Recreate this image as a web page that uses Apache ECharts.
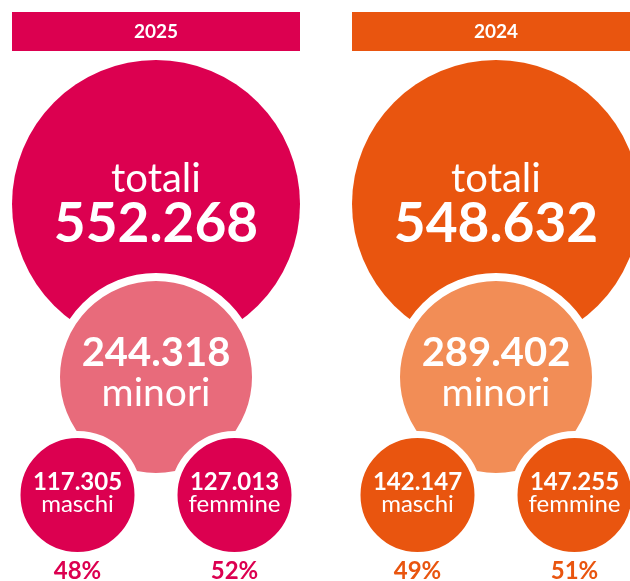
<!DOCTYPE html>
<html lang="it">
<head>
    <meta charset="UTF-8">
    <title>Totali e minori</title>
    <style>
        html,body{
            padding: 0;margin: 0;background: #fff;
        }
        #chart{
            width: 630px;height: 581px;
        }
    </style>
    <script src="https://cdn.jsdelivr.net/npm/echarts@6/dist/echarts.min.js"></script>
</head>
<body>
<div id="chart"></div>
<script>
    // dati
    var years = ['2025', '2024'];
    var totali = [552268, 548632];
    var minori = [244318, 289402];
    var maschi = [117305, 142147];
    var femmine = [127013, 147255];
    var slots = ['maschi', 'minori', 'femmine'];

    // colori e layout
    var mainColor = ['#DC0050', '#E9550F'];
    var lightColor = ['#E86B7B', '#F28D56'];
    var panelX = [156, 496];
    var levelY = [204, 377, 495];
    var font = 'Lato';

    function fmt(n){
        return String(n).replace(/\B(?=(\d{3})+(?!\d))/g, '.');
    }

    var myChart = echarts.init(document.getElementById('chart'));

    var grids = [], xAxes = [], yAxes = [], series = [], graphics = [];

    years.forEach(function(y, i){
        grids.push({left: panelX[i] - 117.75, width: 235.5, top: 0, height: 581});
        xAxes.push({type: 'category', data: slots, gridIndex: i, show: false});
        yAxes.push({type: 'value', min: 0, max: 581, inverse: true, gridIndex: i, show: false});

        graphics.push({
            type: 'rect', left: panelX[i] - 144, top: 12,
            shape: {width: 288, height: 39}, style: {fill: mainColor[i]}
        });
        graphics.push({
            type: 'text', x: panelX[i], y: 32,
            style: {text: y, fill: '#fff', font: 'bold 19px ' + font, textAlign: 'center', textVerticalAlign: 'middle'}
        });

        // cerchio grande
        series.push({
            type: 'scatter', xAxisIndex: i, yAxisIndex: i, z: 2, silent: true,
            symbolSize: 288,
            itemStyle: {color: mainColor[i], opacity: 1},
            label: {
                show: true, position: 'inside', offset: [0, -2],
                formatter: '{a|totali}\n{b|' + fmt(totali[i]) + '}',
                rich: {
                    a: {fontFamily: font, fontSize: 40, lineHeight: 44, color: '#fff'},
                    b: {fontFamily: font, fontSize: 55, fontWeight: 'bold', lineHeight: 46, color: '#fff'}
                }
            },
            data: [['minori', levelY[0]]]
        });

        // minori
        series.push({
            type: 'scatter', xAxisIndex: i, yAxisIndex: i, z: 3, silent: true,
            symbolSize: 200,
            itemStyle: {color: lightColor[i], borderColor: '#fff', borderWidth: 8, opacity: 1},
            label: {
                show: true, position: 'inside', offset: [0, -4],
                formatter: '{b|' + fmt(minori[i]) + '}\n{a|minori}',
                rich: {
                    b: {fontFamily: font, fontSize: 40, fontWeight: 'bold', lineHeight: 40, color: '#fff'},
                    a: {fontFamily: font, fontSize: 39, lineHeight: 40, color: '#fff'}
                }
            },
            data: [['minori', levelY[1]]]
        });

        // maschi / femmine
        var sexData = [
            {value: ['maschi', levelY[2]], n: maschi[i], name: 'maschi'},
            {value: ['femmine', levelY[2]], n: femmine[i], name: 'femmine'}
        ];
        series.push({
            type: 'scatter', xAxisIndex: i, yAxisIndex: i, z: 4, silent: true,
            symbolSize: 121,
            itemStyle: {color: mainColor[i], borderColor: '#fff', borderWidth: 7, opacity: 1},
            label: {
                show: true, position: 'inside', offset: [0, -2],
                formatter: function(p){
                    return '{b|' + fmt(p.data.n) + '}\n{a|' + p.data.name + '}';
                },
                rich: {
                    b: {fontFamily: font, fontSize: 24, fontWeight: 'bold', lineHeight: 22, color: '#fff'},
                    a: {fontFamily: font, fontSize: 24, lineHeight: 22, color: '#fff'}
                }
            },
            data: sexData
        });

        // percentuali
        series.push({
            type: 'scatter', xAxisIndex: i, yAxisIndex: i, z: 5, silent: true,
            symbolSize: 114,
            itemStyle: {color: 'rgba(0,0,0,0)', opacity: 1},
            label: {
                show: true, position: 'bottom', distance: 7, opacity: 1,
                fontFamily: font, fontSize: 24, fontWeight: 'bold', color: mainColor[i],
                formatter: function(p){
                    return Math.round(p.data.n / minori[i] * 100) + '%';
                }
            },
            data: sexData
        });
    });

    myChart.setOption({
        animation: false,
        grid: grids,
        xAxis: xAxes,
        yAxis: yAxes,
        graphic: graphics,
        series: series
    });
</script>
</body>
</html>
